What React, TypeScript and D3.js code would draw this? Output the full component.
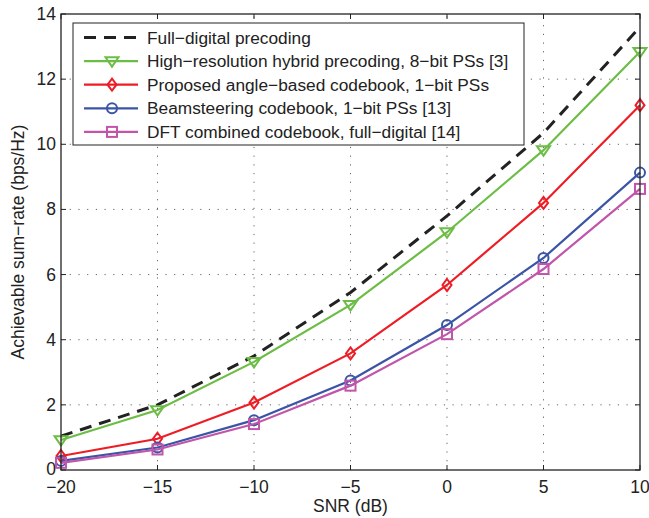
import React from "react";
import * as d3 from "d3";

const snr = [-20, -15, -10, -5, 0, 5, 10];
const fullDigital = [1.04, 2.0, 3.5, 5.45, 7.8, 10.35, 13.6];
const highRes = [0.92, 1.84, 3.32, 5.07, 7.3, 9.82, 12.84];
const proposed = [0.43, 0.96, 2.07, 3.58, 5.68, 8.2, 11.2];
const beamsteering = [0.28, 0.69, 1.53, 2.75, 4.45, 6.51, 9.13];
const dftCombined = [0.22, 0.63, 1.41, 2.59, 4.17, 6.17, 8.63];

const xTicks = [-20, -15, -10, -5, 0, 5, 10];
const yTicks = [0, 2, 4, 6, 8, 10, 12, 14];

const seriesNames = [
  "Full\u2212digital precoding",
  "High\u2212resolution hybrid precoding, 8\u2212bit PSs [3]",
  "Proposed angle\u2212based codebook, 1\u2212bit PSs",
  "Beamsteering codebook, 1\u2212bit PSs [13]",
  "DFT combined codebook, full\u2212digital [14]",
];
const seriesValues = [fullDigital, highRes, proposed, beamsteering, dftCombined];
const seriesColors = ["#222222", "#6cbd45", "#ee1c25", "#3a55a5", "#c055aa"];
const seriesMarkers = ["none", "tri", "diamond", "circle", "square"];

const W = 649;
const H = 518;
const M = { left: 61, right: 9, top: 14, bottom: 48 };
const FONT = "'Liberation Sans', Arial, Helvetica, sans-serif";

function Marker({ type, x, y, color }: { type: string; x: number; y: number; color: string }) {
  const sw = 2;
  if (type === "tri") {
    const r = 6.5;
    const pts = [
      [x - r, y - r * 0.6],
      [x + r, y - r * 0.6],
      [x, y + r * 0.85],
    ];
    return <polygon points={pts.map((p) => p.join(",")).join(" ")} fill="none" stroke={color} strokeWidth={sw} />;
  }
  if (type === "diamond") {
    const r = 6;
    const pts = [
      [x, y - r],
      [x + r * 0.75, y],
      [x, y + r],
      [x - r * 0.75, y],
    ];
    return <polygon points={pts.map((p) => p.join(",")).join(" ")} fill="none" stroke={color} strokeWidth={sw} />;
  }
  if (type === "circle") {
    return <circle cx={x} cy={y} r={5} fill="none" stroke={color} strokeWidth={sw} />;
  }
  if (type === "square") {
    return <rect x={x - 5} y={y - 5} width={10} height={10} fill="none" stroke={color} strokeWidth={sw} />;
  }
  return null;
}

export default function App() {
  const x = d3.scaleLinear().domain([-20, 10]).range([M.left, W - M.right]);
  const y = d3.scaleLinear().domain([0, 14]).range([H - M.bottom, M.top]);
  const line = d3
    .line<[number, number]>()
    .x((d) => x(d[0]))
    .y((d) => y(d[1]));

  const x0 = x(-20);
  const x1 = x(10);
  const y0 = y(0);
  const y1 = y(14);

  const legX = 73;
  const legY = 23;
  const legW = 451;
  const legH = 122;
  const rowH = 23.6;

  return (
    <svg width={W} height={H} style={{ position: "absolute", left: 0, top: 0, background: "#fff" }} fontFamily={FONT}>
      <rect x={0} y={0} width={W} height={H} fill="#fff" />
      {/* grid */}
      {xTicks.slice(1, -1).map((t) => (
        <line key={"gx" + t} x1={x(t)} x2={x(t)} y1={y0} y2={y1} stroke="#666" strokeWidth={1} strokeDasharray="1.2,7.5" />
      ))}
      {yTicks.slice(1, -1).map((t) => (
        <line key={"gy" + t} x1={x0} x2={x1} y1={y(t)} y2={y(t)} stroke="#666" strokeWidth={1} strokeDasharray="1.2,7.5" />
      ))}
      {/* ticks */}
      {xTicks.map((t) => (
        <g key={"tx" + t}>
          <line x1={x(t)} x2={x(t)} y1={y0} y2={y0 - 5} stroke="#222" />
          <line x1={x(t)} x2={x(t)} y1={y1} y2={y1 + 5} stroke="#222" />
          <text x={x(t)} y={y0 + 23} textAnchor="middle" fontSize={17.5} fill="#222">
            {t < 0 ? "\u2212" + Math.abs(t) : String(t)}
          </text>
        </g>
      ))}
      {yTicks.map((t) => (
        <g key={"ty" + t}>
          <line x1={x0} x2={x0 + 5} y1={y(t)} y2={y(t)} stroke="#222" />
          <line x1={x1} x2={x1 - 5} y1={y(t)} y2={y(t)} stroke="#222" />
          <text x={x0 - 5} y={y(t) + (t === 0 ? 4.5 : 6)} textAnchor="end" fontSize={17.5} fill="#222">
            {t}
          </text>
        </g>
      ))}
      {/* series */}
      {seriesValues.map((vals, i) => {
        const pts = snr.map((s, j) => [s, vals[j]] as [number, number]);
        return (
          <g key={"s" + i}>
            <path
              d={line(pts) || ""}
              fill="none"
              stroke={seriesColors[i]}
              strokeWidth={i === 0 ? 3 : 2.2}
              strokeDasharray={i === 0 ? "12,8" : undefined}
            />
            {pts.map((p, j) => (
              <Marker key={j} type={seriesMarkers[i]} x={x(p[0])} y={y(p[1])} color={seriesColors[i]} />
            ))}
          </g>
        );
      })}
      {/* axes box */}
      <rect x={x0} y={y1} width={x1 - x0} height={y0 - y1} fill="none" stroke="#222" strokeWidth={1.3} />
      {/* legend */}
      <rect x={legX} y={legY} width={legW} height={legH} fill="#fff" stroke="#222" strokeWidth={1} />
      {seriesNames.map((name, i) => {
        const cy = legY + 14.5 + i * rowH;
        return (
          <g key={"l" + i}>
            <line
              x1={84}
              x2={138}
              y1={cy}
              y2={cy}
              stroke={seriesColors[i]}
              strokeWidth={i === 0 ? 3 : 2.2}
              strokeDasharray={i === 0 ? "12,8" : undefined}
            />
            <Marker type={seriesMarkers[i]} x={112} y={cy} color={seriesColors[i]} />
            <text x={147} y={cy + 6} fontSize={17.3} fill="#222">
              {name}
            </text>
          </g>
        );
      })}
      {/* axis labels */}
      <text x={(x0 + x1) / 2} y={H - 6} textAnchor="middle" fontSize={17.5} fill="#222">
        SNR (dB)
      </text>
      <text
        transform={`translate(24, ${(y0 + y1) / 2}) rotate(-90)`}
        textAnchor="middle"
        fontSize={17.5}
        fill="#222"
      >
        Achievable sum{"\u2212"}rate (bps/Hz)
      </text>
    </svg>
  );
}
